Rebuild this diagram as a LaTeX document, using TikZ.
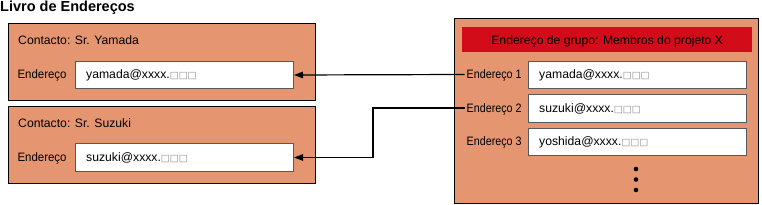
\documentclass[tikz,border=0pt]{standalone}
\usepackage{fontspec}
\setmainfont{Liberation Sans}
\newfontfamily\symfont{DejaVu Sans}
\newfontfamily\narrowA{Liberation Sans}[FakeStretch=0.94]
\newfontfamily\narrowB{Liberation Sans}[FakeStretch=0.88]
\usetikzlibrary{arrows.meta,calc}
\definecolor{boxorange}{RGB}{230,149,113}
\definecolor{barred}{RGB}{210,12,24}
\newcommand\sqs{{\symfont\fontsize{9.5}{10}\selectfont\color{black!45}□□□}}
\tikzset{
  panel/.style={draw=black,line width=1.4pt,fill=boxorange,inner sep=0pt,anchor=north west},
  field/.style={draw=black!65,line width=1pt,fill=white,inner sep=0pt,anchor=north west},
  txt/.style={inner xsep=2pt,inner ysep=0pt,text height=8.7pt,text depth=0pt,anchor=west,font=\fontsize{12.2}{14}\selectfont},
  labA/.style={txt,font=\narrowA\fontsize{12.2}{14}\selectfont},
  labB/.style={txt,font=\narrowB\fontsize{12.2}{14}\selectfont},
  link/.style={line width=1.2pt,-{Triangle[length=9pt,width=6.5pt]}},
  dot/.style={circle,fill=black,inner sep=0pt,minimum size=4.6pt}
}
\begin{document}
\begin{tikzpicture}[x=1pt,y=-1pt]
\useasboundingbox (0,0) rectangle (762,205);
% title
\node[inner sep=0pt,anchor=base west,font=\bfseries\fontsize{14.5}{16}\selectfont] (title) at (0,12) {Livro de Endereços};
% contact Yamada
\node[panel,minimum width=307pt,minimum height=77pt] (c1) at (8,23) {};
\node[txt] (c1name) at (16,39.7) {Contacto: Sr. Yamada};
\node[field,minimum width=218pt,minimum height=27pt] (y1) at (75,61) {};
\node[labA] (c1lab) at (15.3,74.5) {Endereço};
\node[txt] (c1mail) at (84,74.5) {yamada@xxxx.\sqs};
% contact Suzuki
\node[panel,minimum width=307pt,minimum height=77pt] (c2) at (8,106) {};
\node[txt] (c2name) at (16,122.7) {Contacto: Sr. Suzuki};
\node[field,minimum width=218pt,minimum height=28pt] (s1) at (75,143) {};
\node[labA] (c2lab) at (15.3,157) {Endereço};
\node[txt] (c2mail) at (84,157) {suzuki@xxxx.\sqs};
% group
\node[panel,minimum width=303.5pt,minimum height=185pt] (g) at (454,18) {};
\node[fill=barred,inner sep=0pt,anchor=north west,minimum width=290pt,minimum height=25pt] (bar) at (462,27) {};
\node[txt,anchor=center] (bartext) at (bar.center) {Endereço de grupo: Membros do projeto X};
\node[field,minimum width=218pt,minimum height=27pt] (r1) at (528,61) {};
\node[field,minimum width=218pt,minimum height=28pt] (r2) at (528,94) {};
\node[field,minimum width=218pt,minimum height=27pt] (r3) at (528,128) {};
\node[labB] (l1) at (464.5,74.5) {Endereço 1};
\node[labB] (l2) at (464.5,108) {Endereço 2};
\node[labB] (l3) at (464.5,141.5) {Endereço 3};
\node[txt] (m1) at (537,74.5) {yamada@xxxx.\sqs};
\node[txt] (m2) at (537,108) {suzuki@xxxx.\sqs};
\node[txt] (m3) at (537,141.5) {yoshida@xxxx.\sqs};
\node[dot] (d1) at (636,169) {};
\node[dot] (d2) at (636,179.5) {};
\node[dot] (d3) at (636,190) {};
% connectors
\coordinate (bend) at (373,108);
\draw[link] (l1.west) -- (y1.east);
\draw[link] (l2.west) -| (bend |- s1.east) -- (s1.east);
\end{tikzpicture}
\end{document}
